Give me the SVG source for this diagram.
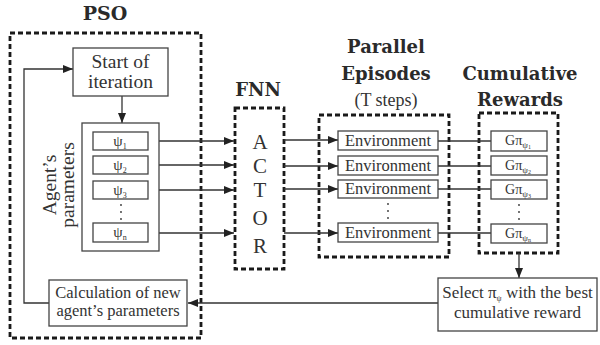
<svg xmlns="http://www.w3.org/2000/svg" width="600" height="345" viewBox="0 0 600 345">
<defs>
<marker id="ah" viewBox="0 0 10 8" refX="10" refY="4" markerWidth="10" markerHeight="8" markerUnits="userSpaceOnUse" orient="auto">
<path d="M0,0 L10,4 L0,8 Z" fill="#222"/>
</marker>
</defs>
<rect width="600" height="345" fill="#fff"/>

<g id="titles" font-family="DejaVu Serif" font-weight="bold" fill="#2a2a2a" text-anchor="middle" font-size="18">
<text x="105" y="20" font-size="19">PSO</text>
<text x="258" y="96">FNN</text>
<text x="386" y="53">Parallel</text>
<text x="386" y="80">Episodes</text>
<text x="520" y="80">Cumulative</text>
<text x="520" y="106">Rewards</text>
</g>
<g id="subtitle" font-family="Liberation Serif" fill="#333" text-anchor="middle" font-size="18">
<text x="386" y="106">(T steps)</text>
</g>

<g id="frames" fill="none" stroke="#1a1a1a" stroke-width="2.8" stroke-dasharray="5 3">
<rect id="pso" x="10" y="33" width="191" height="305"/>
<rect id="fnn" x="235" y="108" width="49" height="161"/>
<rect id="episodes" x="319" y="115" width="130" height="142"/>
<rect id="rewards" x="479" y="113" width="79" height="140"/>
</g>

<g id="actor" font-family="Liberation Serif" fill="#333" text-anchor="middle" font-size="21">
<text x="260" y="149">A</text>
<text x="260" y="173">C</text>
<text x="260" y="197">T</text>
<text x="260" y="225">O</text>
<text x="260" y="253">R</text>
</g>

<g id="connectors" fill="none" stroke="#333" stroke-width="1.3">
<path d="M49,303 H24 V69 H73" marker-end="url(#ah)"/>
<path d="M122,96 V123" marker-end="url(#ah)"/>
<path d="M148,141 H234" marker-end="url(#ah)"/>
<path d="M148,165 H234" marker-end="url(#ah)"/>
<path d="M148,190 H234" marker-end="url(#ah)"/>
<path d="M148,233 H234" marker-end="url(#ah)"/>
<path d="M284,140 H338" marker-end="url(#ah)"/>
<path d="M284,166 H338" marker-end="url(#ah)"/>
<path d="M284,189 H338" marker-end="url(#ah)"/>
<path d="M284,233 H338" marker-end="url(#ah)"/>
<path d="M438,141 H491"/>
<path d="M438,166 H491"/>
<path d="M438,189 H491"/>
<path d="M438,233 H491"/>
<path d="M519,253 V278" marker-end="url(#ah)"/>
<path d="M438,303 H188" marker-end="url(#ah)"/>
</g>

<g id="boxes" fill="#fff" stroke="#444" stroke-width="1.3">
<rect x="73" y="48" width="95" height="48"/>
<rect x="82" y="123" width="77" height="128"/>
<rect x="93" y="132" width="55" height="18"/>
<rect x="93" y="156" width="55" height="18"/>
<rect x="93" y="181" width="55" height="18"/>
<rect x="93" y="223" width="55" height="19"/>
<rect x="338" y="131" width="100" height="19"/>
<rect x="338" y="156" width="100" height="19"/>
<rect x="338" y="180" width="100" height="18"/>
<rect x="338" y="223" width="100" height="19"/>
<rect x="491" y="131" width="56" height="20"/>
<rect x="491" y="156" width="56" height="19"/>
<rect x="491" y="180" width="56" height="19"/>
<rect x="491" y="224" width="56" height="19"/>
<rect x="438" y="278" width="159" height="53"/>
<rect x="49" y="280" width="138" height="46"/>
</g>

<g id="dots" fill="#333">
<circle cx="121" cy="205" r="0.9"/><circle cx="121" cy="212" r="0.9"/><circle cx="121" cy="219" r="0.9"/>
<circle cx="388" cy="204" r="0.9"/><circle cx="388" cy="211" r="0.9"/><circle cx="388" cy="218" r="0.9"/>
<circle cx="519" cy="205" r="0.9"/><circle cx="519" cy="212" r="0.9"/><circle cx="519" cy="219" r="0.9"/>
</g>

<g id="labels" font-family="Liberation Serif" fill="#333" text-anchor="middle">
<g id="start" font-size="19.5">
<text x="120.5" y="68">Start of</text>
<text x="120.5" y="88">iteration</text>
</g>
<g id="agents" font-size="19.5">
<text transform="translate(56,185) rotate(-90)">Agent&#8217;s</text>
<text transform="translate(74,185) rotate(-90)">parameters</text>
</g>
<g id="psi" font-size="15">
<text x="120" y="146">&#968;<tspan font-size="8" dy="3">1</tspan></text>
<text x="120" y="170">&#968;<tspan font-size="8" dy="3">2</tspan></text>
<text x="120" y="195">&#968;<tspan font-size="8" dy="3">3</tspan></text>
<text x="120" y="237">&#968;<tspan font-size="8" dy="3">n</tspan></text>
</g>
<g id="env" font-size="16.5">
<text x="388" y="146">Environment</text>
<text x="388" y="171">Environment</text>
<text x="388" y="194">Environment</text>
<text x="388" y="238">Environment</text>
</g>
<g id="returns" font-size="14">
<text x="518" y="145">G&#960;<tspan font-size="9" dy="3">&#968;</tspan><tspan font-size="6" dy="1">1</tspan></text>
<text x="518" y="170">G&#960;<tspan font-size="9" dy="3">&#968;</tspan><tspan font-size="6" dy="1">2</tspan></text>
<text x="518" y="194">G&#960;<tspan font-size="9" dy="3">&#968;</tspan><tspan font-size="6" dy="1">3</tspan></text>
<text x="518" y="238">G&#960;<tspan font-size="9" dy="3">&#968;</tspan><tspan font-size="6" dy="1">n</tspan></text>
</g>
<g id="select" font-size="17">
<text x="517.5" y="298">Select &#960;<tspan font-size="8" dy="3">&#968;</tspan><tspan dy="-3"> with the best</tspan></text>
<text x="517.5" y="318">cumulative reward</text>
</g>
<g id="calc" font-size="16.5">
<text x="118" y="298">Calculation of new</text>
<text x="118" y="316">agent&#8217;s parameters</text>
</g>
</g>
</svg>
